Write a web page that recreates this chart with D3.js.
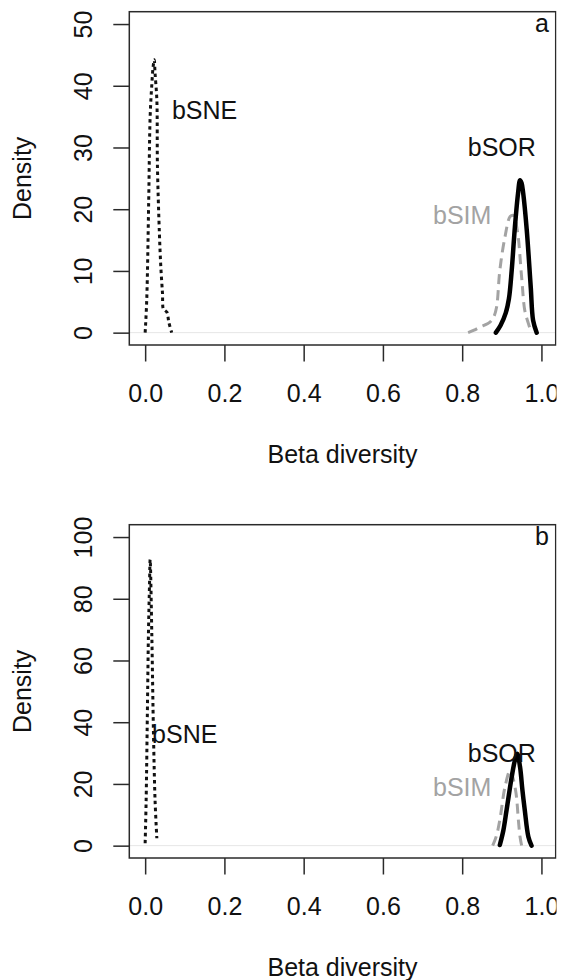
<!DOCTYPE html>
<html>
<head>
<meta charset="utf-8">
<script src="https://cdn.jsdelivr.net/npm/d3@7"></script>
<style>
  html, body { margin: 0; padding: 0; background: #fff; }
  svg { display: block; }
  text { font-family: "Liberation Sans", Arial, Helvetica, sans-serif; }
</style>
</head>
<body>
<svg id="chart" width="562" height="980"></svg>
<script>
// ---------------- DATA ----------------
const xTicks = [0, 0.2, 0.4, 0.6, 0.8, 1.0];
const xTickLabels = ["0.0", "0.2", "0.4", "0.6", "0.8", "1.0"];
const yTicksA = [0, 10, 20, 30, 40, 50];
const yTicksB = [0, 20, 40, 60, 80, 100];
const xTitle = "Beta diversity";
const yTitle = "Density";

// Panel a density curves [beta, density]
const aSNE = [[0.000,0],[0.004,5.3],[0.009,21.5],[0.0126,35],[0.017,40.4],[0.020,43],[0.023,44.2],[0.025,42],[0.0295,37.7],[0.031,27],[0.036,16],[0.0395,10.7],[0.0437,6.4],[0.046,3.8],[0.050,3.6],[0.055,3.3],[0.060,1.6],[0.067,0]];
const aSOR = [[0.885,0],[0.897,1.2],[0.910,3.2],[0.918,5.5],[0.925,10.1],[0.933,17.1],[0.941,22.6],[0.946,24.7],[0.950,24.2],[0.954,22.6],[0.963,16.6],[0.973,7.4],[0.979,2],[0.988,0]];
const aSIM = [[0.815,0],[0.830,0.4],[0.845,0.9],[0.870,1.7],[0.880,2.6],[0.887,4.2],[0.895,10.1],[0.908,15.5],[0.921,18.8],[0.929,19],[0.939,16.6],[0.950,9],[0.958,3.6],[0.967,1.5],[0.972,0.5]];

// Panel b density curves
const bSNE = [[0.000,0.8],[0.0025,14.7],[0.006,47],[0.0083,68.6],[0.011,84.6],[0.0126,92.7],[0.0168,68.5],[0.021,36.3],[0.025,14.7],[0.0295,2.4]];
const bSOR = [[0.895,0.2],[0.904,5],[0.912,11.5],[0.925,22.3],[0.933,27.6],[0.939,29.8],[0.946,25.5],[0.952,18],[0.958,11.5],[0.967,2.9],[0.975,0]];
const bSIM = [[0.877,0],[0.886,3],[0.895,8.3],[0.908,19],[0.921,24.4],[0.928,22],[0.936,16.9],[0.942,8],[0.946,2.9],[0.950,0]];

// Curve labels [text, beta, density]
const labelsA = [["bSNE", 0.15, 36], ["bSOR", 0.9, 30], ["bSIM", 0.8, 19]];
const labelsB = [["bSNE", 0.1, 36], ["bSOR", 0.9, 30], ["bSIM", 0.8, 19]];
const panelLetters = ["a", "b"];

// ---------------- DRAW ----------------
const svg = d3.select("#chart");
const FS = 25;
const box = { left: 129.3, right: 555.7, top: 11.7, bottom: 345 };

// clip at right edge (reference is cropped)
svg.append("defs").append("clipPath").attr("id", "crop")
  .append("rect").attr("x", 0).attr("y", 0).attr("width", 556.5).attr("height", 980);
const root = svg.append("g").attr("clip-path", "url(#crop)");

const x = d3.scaleLinear().domain([-0.04, 1.036]).range([box.left, box.right]);

const styles = {
  SNE: { color: "#111", width: 3, dash: "3.5,3.5" },
  SOR: { color: "#000", width: 4.5, dash: null },
  SIM: { color: "#a3a3a3", width: 3, dash: "10,6" }
};

function panel(offsetY, yDomain, yTicks, series, labels, letter) {
  const g = root.append("g").attr("transform", `translate(0,${offsetY})`);
  const y = d3.scaleLinear().domain(yDomain).range([box.bottom, box.top]);

  // zero line
  g.append("line")
    .attr("x1", box.left).attr("x2", box.right)
    .attr("y1", y(0)).attr("y2", y(0))
    .attr("stroke", "#e6e6e6").attr("stroke-width", 1);

  // curves
  const line = d3.line().x(d => x(d[0])).y(d => y(d[1])).curve(d3.curveCatmullRom.alpha(0.5));
  series.forEach(s => {
    const st = styles[s.key];
    g.append("path").datum(s.data)
      .attr("d", line)
      .attr("fill", "none")
      .attr("stroke", st.color)
      .attr("stroke-width", st.width)
      .attr("stroke-linejoin", "round")
      .attr("stroke-linecap", st.dash ? "butt" : "round")
      .attr("stroke-dasharray", st.dash);
  });

  // box
  g.append("rect")
    .attr("x", box.left).attr("y", box.top)
    .attr("width", box.right - box.left).attr("height", box.bottom - box.top)
    .attr("fill", "none").attr("stroke", "#2a2a2a").attr("stroke-width", 1.5);

  // x axis
  const xa = g.append("g").attr("transform", `translate(0,${box.bottom})`)
    .call(d3.axisBottom(x).tickValues(xTicks).tickSize(16.5).tickFormat((d, i) => xTickLabels[i]));
  xa.select(".domain").remove();
  xa.selectAll(".tick line").attr("stroke", "#2a2a2a").attr("stroke-width", 1.5);
  xa.selectAll(".tick text").attr("y", 56.5).attr("dy", null)
    .attr("font-size", FS).attr("fill", "#111").attr("font-family", '"Liberation Sans", Arial, sans-serif');

  // y axis
  const ya = g.append("g").attr("transform", `translate(${box.left},0)`)
    .call(d3.axisLeft(y).tickValues(yTicks).tickSize(16).tickFormat(d3.format("d")));
  ya.select(".domain").remove();
  ya.selectAll(".tick line").attr("stroke", "#2a2a2a").attr("stroke-width", 1.5);
  ya.selectAll(".tick text")
    .attr("x", null).attr("dy", null)
    .attr("text-anchor", "middle")
    .attr("transform", "translate(-37.3,0) rotate(-90)")
    .attr("font-size", FS).attr("fill", "#111").attr("font-family", '"Liberation Sans", Arial, sans-serif');

  // titles
  g.append("text").attr("x", (box.left + box.right) / 2).attr("y", 463.3)
    .attr("text-anchor", "middle").attr("font-size", FS).attr("fill", "#111").text(xTitle);
  g.append("text")
    .attr("transform", `translate(31,${(box.top + box.bottom) / 2}) rotate(-90)`)
    .attr("text-anchor", "middle").attr("font-size", FS).attr("fill", "#111").text(yTitle);

  // curve labels
  labels.forEach(l => {
    g.append("text").attr("x", x(l[1])).attr("y", y(l[2])).attr("dy", "0.35em")
      .attr("text-anchor", "middle").attr("font-size", FS)
      .attr("fill", l[0] === "bSIM" ? "#a3a3a3" : "#111").text(l[0]);
  });

  // panel letter
  g.append("text").attr("x", 549).attr("y", 31.5).attr("text-anchor", "end")
    .attr("font-size", FS).attr("fill", "#111").text(letter);
}

panel(0, [-2, 52], yTicksA,
  [{ key: "SIM", data: aSIM }, { key: "SOR", data: aSOR }, { key: "SNE", data: aSNE }],
  labelsA, panelLetters[0]);
panel(513, [-4, 104], yTicksB,
  [{ key: "SIM", data: bSIM }, { key: "SOR", data: bSOR }, { key: "SNE", data: bSNE }],
  labelsB, panelLetters[1]);
</script>
</body>
</html>
